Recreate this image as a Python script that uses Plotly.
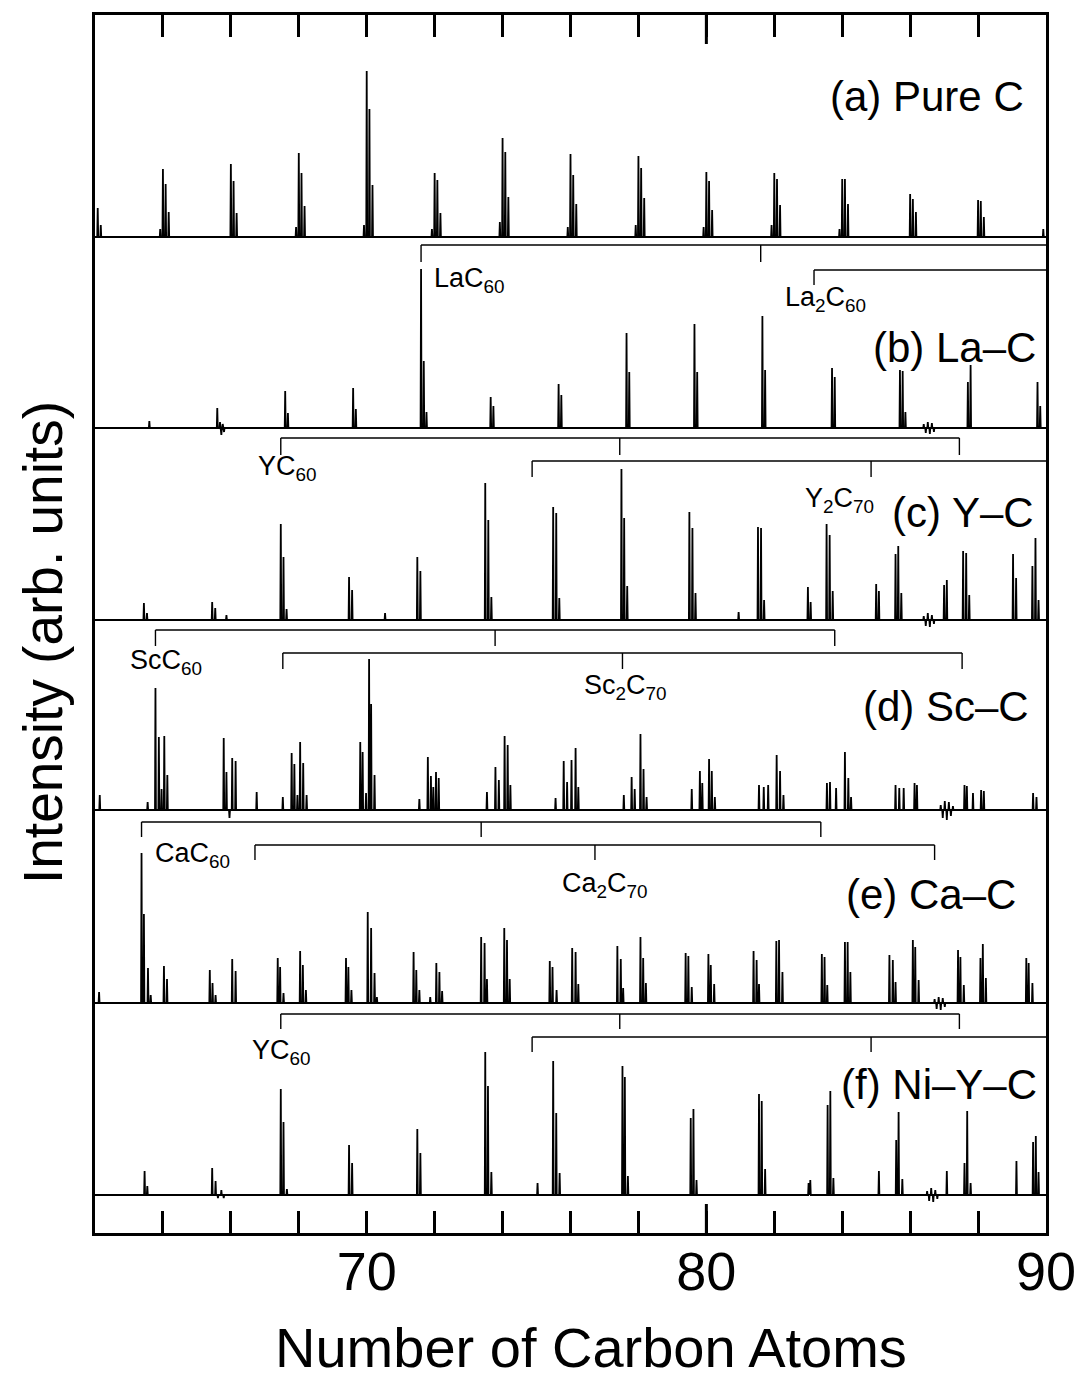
import plotly.graph_objects as go

# ---------------- data ----------------
X_MIN, X_MAX = 62, 90
TICK_VALS = [64, 66, 68, 70, 72, 74, 76, 78, 80, 82, 84, 86, 88, 90]
TICK_TEXT = ["", "", "", "70", "", "", "", "", "80", "", "", "", "", "90"]

# (position in carbon-atom units, intensity in arb. units)
A_PEAKS = [(62.08, 29), (62.17, 12), (63.92, 8), (64.0, 68), (64.08, 53), (64.17, 25),
           (66.0, 73), (66.08, 56), (66.17, 24), (67.92, 10), (68.0, 84), (68.08, 64), (68.17, 31),
           (69.92, 12), (70.0, 166), (70.08, 128), (70.17, 52), (71.92, 8), (72.0, 64), (72.08, 57),
           (72.17, 24), (73.92, 15), (74.0, 99), (74.08, 85), (74.17, 40), (75.92, 10), (76.0, 83),
           (76.08, 62), (76.17, 33), (77.92, 12), (78.0, 81), (78.08, 69), (78.17, 39), (79.92, 10),
           (80.0, 65), (80.08, 56), (80.17, 27), (81.92, 12), (82.0, 64), (82.08, 58), (82.17, 32),
           (83.92, 8), (84.0, 58), (84.08, 58), (84.17, 33), (86.0, 43), (86.08, 38), (86.17, 25),
           (88.0, 37), (88.08, 36), (88.17, 20), (89.92, 8)]

B_PEAKS = [(63.6, 7), (65.6, 20), (65.68, 6), (65.72, -7), (65.76, 4), (65.8, -4),
           (67.6, 37), (67.68, 15), (69.6, 40), (69.68, 19), (71.6, 159), (71.68, 67), (71.76, 16),
           (73.65, 31), (73.73, 22), (75.65, 44), (75.73, 33), (77.65, 95), (77.73, 56),
           (79.65, 104), (79.73, 56), (81.65, 112), (81.73, 58), (83.7, 60), (83.78, 51),
           (85.7, 58), (85.78, 57), (85.86, 16),
           (86.4, 4), (86.46, -5), (86.52, 6), (86.58, -6), (86.64, 5), (86.7, -4),
           (87.7, 46), (87.78, 63), (89.75, 46), (89.83, 22)]

C_PEAKS = [(63.44, 17), (63.53, 7), (65.45, 18), (65.54, 12), (65.87, 5),
           (67.47, 96), (67.55, 63), (67.64, 11), (69.48, 43), (69.57, 30), (70.54, 7),
           (71.49, 63), (71.58, 49), (73.49, 137), (73.58, 100), (73.67, 23),
           (75.49, 113), (75.58, 107), (75.67, 22), (77.5, 151), (77.58, 102), (77.67, 34),
           (79.5, 108), (79.59, 92), (79.68, 27), (80.95, 8), (81.52, 93), (81.61, 92), (81.7, 20),
           (82.99, 33), (83.07, 18), (83.54, 96), (83.63, 85), (83.72, 29), (85.0, 36), (85.08, 29),
           (85.57, 66), (85.65, 74), (85.74, 27),
           (86.4, 4), (86.46, -6), (86.52, 7), (86.58, -7), (86.64, 5), (86.7, -4),
           (87.0, 35), (87.08, 40), (87.56, 69), (87.65, 67), (87.74, 25),
           (89.03, 66), (89.12, 42), (89.6, 54), (89.69, 82), (89.78, 20)]

D_PEAKS = [(62.14, 15), (63.55, 8), (63.78, 122), (63.88, 73), (63.96, 21), (64.04, 74), (64.13, 35),
           (65.79, 72), (65.87, 38), (65.96, -8), (66.04, 52), (66.14, 49), (66.76, 18),
           (67.53, 13), (67.79, 57), (67.87, 46), (67.96, 15), (68.04, 68), (68.13, 47), (68.23, 15),
           (69.81, 68), (69.88, 58), (69.98, 17), (70.07, 151), (70.13, 106), (70.23, 35),
           (71.55, 11), (71.8, 53), (71.89, 34), (71.96, 23), (72.04, 38), (72.12, 32),
           (73.54, 18), (73.79, 43), (73.89, 30), (74.06, 74), (74.15, 65), (74.23, 25),
           (75.56, 12), (75.8, 49), (75.9, 28), (76.03, 50), (76.15, 62), (76.23, 23),
           (77.57, 15), (77.8, 33), (77.89, 21), (78.06, 76), (78.15, 41), (78.24, 13),
           (79.57, 21), (79.81, 39), (79.88, 27), (80.08, 51), (80.16, 39), (80.25, 13),
           (81.55, 25), (81.69, 23), (81.82, 25), (82.07, 55), (82.17, 39), (82.27, 15),
           (83.55, 27), (83.64, 28), (83.82, 22), (84.08, 58), (84.18, 32), (84.26, 13),
           (85.57, 25), (85.68, 22), (85.81, 22), (86.13, 27), (86.2, 25),
           (86.9, 5), (86.96, -8), (87.02, 9), (87.08, -10), (87.14, 8), (87.2, -6), (87.26, 4),
           (87.6, 25), (87.67, 24), (87.85, 17), (88.09, 20), (88.17, 19), (89.62, 17), (89.72, 13)]

E_PEAKS = [(62.12, 11), (63.37, 150), (63.44, 89), (63.56, 35), (63.64, 8), (64.03, 37), (64.12, 24),
           (65.38, 33), (65.46, 20), (65.55, 8), (66.04, 44), (66.14, 32),
           (67.38, 45), (67.45, 36), (67.55, 10), (68.04, 52), (68.12, 38), (68.21, 13),
           (69.39, 45), (69.46, 36), (69.55, 13), (70.03, 91), (70.13, 75), (70.23, 30), (70.3, 6),
           (71.38, 51), (71.46, 33), (71.55, 13), (71.87, 6), (72.05, 40), (72.14, 31), (72.22, 12),
           (73.37, 66), (73.47, 60), (73.54, 24), (74.05, 75), (74.13, 63), (74.21, 24),
           (75.39, 42), (75.47, 36), (75.59, 13), (76.05, 55), (76.15, 51), (76.23, 19),
           (77.38, 57), (77.48, 44), (77.55, 15), (78.06, 66), (78.14, 45), (78.22, 20),
           (79.39, 50), (79.47, 47), (79.57, 16), (80.06, 49), (80.13, 38), (80.23, 19),
           (81.39, 52), (81.48, 43), (81.55, 19), (82.06, 62), (82.14, 63), (82.24, 31),
           (83.4, 49), (83.48, 46), (83.56, 18), (84.08, 61), (84.16, 61), (84.24, 31),
           (85.39, 48), (85.49, 43), (85.57, 21), (86.08, 63), (86.15, 56), (86.25, 23),
           (86.72, 4), (86.78, -6), (86.84, 6), (86.9, -7), (86.96, 5), (87.02, -4),
           (87.41, 53), (87.48, 46), (87.58, 18), (88.07, 45), (88.14, 59), (88.23, 25),
           (89.42, 45), (89.49, 40), (89.6, 20)]

F_PEAKS = [(63.46, 24), (63.54, 9), (65.45, 27), (65.55, 14), (65.62, -3), (65.72, 5), (65.79, -3),
           (67.47, 106), (67.55, 73), (67.65, 6), (69.48, 50), (69.57, 32), (71.49, 66), (71.58, 42),
           (73.49, 143), (73.57, 109), (73.67, 23), (75.03, 12), (75.49, 134), (75.58, 82), (75.68, 22),
           (77.53, 129), (77.6, 118), (77.69, 19), (79.54, 77), (79.62, 86), (79.71, 15),
           (81.55, 101), (81.63, 94), (81.73, 26), (83.01, 12), (83.06, 15),
           (83.57, 90), (83.65, 104), (83.74, 17), (85.08, 24), (85.59, 55), (85.66, 83), (85.77, 16),
           (86.5, 4), (86.56, -6), (86.62, 7), (86.68, -7), (86.74, 5), (86.8, -4),
           (87.08, 24), (87.6, 32), (87.68, 84), (87.78, 12), (89.13, 34),
           (89.62, 53), (89.7, 59), (89.78, 23)]

PANEL_LABELS = ["(a) Pure C", "(b) La–C", "(c) Y–C", "(d) Sc–C", "(e) Ca–C", "(f) Ni–Y–C"]
X_TITLE = "Number of Carbon Atoms"
Y_TITLE = "Intensity (arb. units)"

# species series markers (carbon-atom units)
LAC_TICKS = [71.6, 81.6]
LA2C_TICKS = [83.17]
YC_TICKS = [67.47, 77.45, 87.45]
Y2C_TICKS = [74.87, 84.85]
SCC_TICKS = [63.78, 73.78, 83.78]
SC2C_TICKS = [67.53, 77.53, 87.53]
CAC_TICKS = [63.37, 73.37, 83.37]
CA2C_TICKS = [66.71, 76.72, 86.72]

# ---------------- layout constants ----------------
W, H = 1082, 1374
ML, MR, MT, MB = 95, 36, 15, 141
PW, PH = W - ML - MR, H - MT - MB
Y_TOP = PH                   # y axis in plot-pixel units
BASELINES = [996, 805, 613, 423, 230, 38]
PEAK_HALF = 0.014
FONT = "Liberation Sans, Arial, sans-serif"

fig = go.Figure()

def spectrum(peaks, base):
    xs, ys = [X_MIN], [base]
    for x, h in sorted(peaks):
        xs += [x - PEAK_HALF, x, x + PEAK_HALF]
        ys += [base, base + h, base]
    xs.append(X_MAX)
    ys.append(base)
    return xs, ys

for peaks, base in zip([A_PEAKS, B_PEAKS, C_PEAKS, D_PEAKS, E_PEAKS, F_PEAKS], BASELINES):
    xs, ys = spectrum(peaks, base)
    fig.add_trace(go.Scatter(x=xs, y=ys, mode="lines",
                             line=dict(color="black", width=1.8), hoverinfo="skip",
                             showlegend=False))

# brackets: (ticks, level, drop, extends to right edge)
BRACKETS = [
    (LAC_TICKS, 988, 17, True),
    (LA2C_TICKS, 963, 15, True),
    (YC_TICKS, 795, 17, False),
    (Y2C_TICKS, 772, 16, True),
    (SCC_TICKS, 603, 16, False),
    (SC2C_TICKS, 580, 16, False),
    (CAC_TICKS, 411, 15, False),
    (CA2C_TICKS, 388, 15, False),
    (YC_TICKS, 219, 15, False),
    (Y2C_TICKS, 196, 15, True),
]
for ticks, lev, drop, ext in BRACKETS:
    bx = [ticks[0], X_MAX if ext else ticks[-1]]
    by = [lev, lev]
    for t in ticks:
        bx += [None, t, t]
        by += [None, lev, lev - drop]
    fig.add_trace(go.Scatter(x=bx, y=by, mode="lines",
                             line=dict(color="black", width=1.4), hoverinfo="skip",
                             showlegend=False))

# species labels
SPECIES = [
    ("LaC<sub>60</sub>", 71.93, 953),
    ("La<sub>2</sub>C<sub>60</sub>", 82.25, 934),
    ("YC<sub>60</sub>", 66.73, 765),
    ("Y<sub>2</sub>C<sub>70</sub>", 82.84, 733),
    ("ScC<sub>60</sub>", 62.96, 571),
    ("Sc<sub>2</sub>C<sub>70</sub>", 76.35, 546),
    ("CaC<sub>60</sub>", 63.7, 378),
    ("Ca<sub>2</sub>C<sub>70</sub>", 75.7, 348),
    ("YC<sub>60</sub>", 66.56, 181),
]
for txt, x, y in SPECIES:
    fig.add_annotation(x=x, y=y, text=txt, showarrow=False, xanchor="left", yanchor="middle",
                       font=dict(family=FONT, size=27, color="black"))

PANEL_POS = [(89.4, 1137), (89.77, 886), (89.72, 721), (89.57, 527), (89.18, 339), (89.8, 149)]
for lab, (x, y) in zip(PANEL_LABELS, PANEL_POS):
    fig.add_annotation(x=x, y=y, text=lab, showarrow=False, xanchor="right", yanchor="middle",
                       font=dict(family=FONT, size=42, color="black"))

# axis titles (positions given in page pixels, converted to plot-area fractions)
fig.add_annotation(xref="paper", yref="paper",
                   x=(591 - ML) / PW, y=(H - MB - 1347) / PH,
                   text=X_TITLE, showarrow=False, xanchor="center", yanchor="middle",
                   font=dict(family=FONT, size=56, color="black"))
fig.add_annotation(xref="paper", yref="paper",
                   x=(43 - ML) / PW, y=(H - MB - 643) / PH,
                   text=Y_TITLE, textangle=-90, showarrow=False,
                   xanchor="center", yanchor="middle",
                   font=dict(family=FONT, size=55, color="black"))

# long ticks at 80
for y0, y1 in [(0, 29), (Y_TOP, Y_TOP - 29)]:
    fig.add_shape(type="line", x0=80, x1=80, y0=y0, y1=y1, xref="x", yref="y",
                  line=dict(color="black", width=3))

fig.update_layout(
    width=W, height=H,
    margin=dict(l=ML, r=MR, t=MT, b=MB, autoexpand=False),
    paper_bgcolor="white", plot_bgcolor="white",
    font=dict(family=FONT, color="black"),
    xaxis=dict(range=[X_MIN, X_MAX], tickvals=TICK_VALS, ticktext=TICK_TEXT,
               ticks="inside", ticklen=22, tickwidth=3, tickcolor="black",
               showline=True, linewidth=3, linecolor="black", mirror="ticks",
               showgrid=False, zeroline=False, automargin=False,
               tickfont=dict(family=FONT, size=54, color="black"),
               ticklabelstandoff=-11),
    yaxis=dict(range=[0, Y_TOP], showticklabels=False, ticks="",
               showline=True, linewidth=3, linecolor="black", mirror=True,
               showgrid=False, zeroline=False, automargin=False),
)

fig.write_html("out.html")
